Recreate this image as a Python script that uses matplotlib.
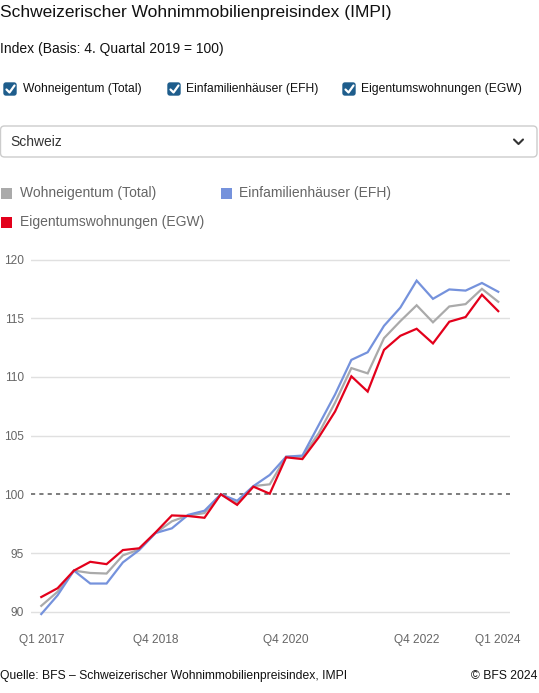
import matplotlib
matplotlib.use("Agg")
import matplotlib.pyplot as plt
from matplotlib.transforms import Affine2D
from matplotlib.patches import FancyBboxPatch, Rectangle
from matplotlib.lines import Line2D

plt.rcParams['font.family'] = ['Liberation Sans', 'DejaVu Sans']

quarters = [f"Q{q} {y}" for y in range(2017, 2025) for q in range(1, 5)][:29]
tick_labels = ["Q1 2017", "Q4 2018", "Q4 2020", "Q4 2022", "Q1 2024"]

total = [90.5, 91.7, 93.5, 93.3, 93.25, 94.8, 95.3, 96.7, 97.7, 98.2, 98.4, 100.0,
         99.25, 100.7, 100.85, 103.2, 103.2, 105.2, 107.8, 110.75, 110.3, 113.3,
         114.75, 116.1, 114.65, 116.0, 116.2, 117.5, 116.4]
efh = [89.8, 91.4, 93.5, 92.4, 92.4, 94.2, 95.25, 96.7, 97.1, 98.25, 98.6, 100.0,
       99.45, 100.7, 101.65, 103.2, 103.3, 105.9, 108.5, 111.45, 112.1, 114.35,
       115.9, 118.2, 116.65, 117.45, 117.35, 118.0, 117.25]
egw = [91.25, 92.0, 93.5, 94.25, 94.05, 95.25, 95.4, 96.75, 98.2, 98.15, 98.0, 100.0,
       99.1, 100.65, 100.05, 103.15, 103.0, 104.85, 107.05, 110.05, 108.75, 112.3,
       113.5, 114.1, 112.85, 114.7, 115.1, 117.0, 115.6]

series_names = ["Wohneigentum (Total)", "Einfamilienhäuser (EFH)", "Eigentumswohnungen (EGW)"]
colors = ["#aaaaaa", "#7592dc", "#e3001b"]

W, H = 539, 693
fig = plt.figure(figsize=(W / 100, H / 100), dpi=100)
px = Affine2D().scale(1 / W, -1 / H).translate(0, 1) + fig.transFigure

# Axes placement
ylo, yhi = 89.5, 120.5
ppu = (611.7 - 259.5) / 30.0
top_px = 259.5 - (yhi - 120) * ppu
bot_px = 611.7 + (90 - ylo) * ppu
ax = fig.add_axes([31 / W, 1 - bot_px / H, (510 - 31) / W, (bot_px - top_px) / H])
ax.set_xlim(-0.63, 28.72)
ax.set_ylim(ylo, yhi)

x = list(range(len(quarters)))
for vals, c in zip([total, efh, egw], colors):
    ax.plot(x, vals, color=c, lw=1.6, solid_joinstyle='miter', zorder=3)

for gy in [90, 95, 105, 110, 115, 120]:
    ax.axhline(gy, color="#e0e0e0", lw=1.0, zorder=1)
ax.axhline(100, color="#666666", lw=1.2, ls=(0, (2.5, 2.5)), zorder=2)

ax.set_yticks([90, 95, 100, 105, 110, 115, 120])
ax.set_yticklabels(["90", "95", "100", "105", "110", "115", "120"])
ax.set_xticks([quarters.index(t) for t in tick_labels])
ax.set_xticklabels(tick_labels)
ax.tick_params(axis='both', length=0, labelsize=8.6, labelcolor="#666666")
ax.tick_params(axis='y', pad=5)
ax.tick_params(axis='x', pad=12)
for s in ax.spines.values():
    s.set_visible(False)

# Header
fig.text(0, 13, "Schweizerischer Wohnimmobilienpreisindex (IMPI)", transform=px,
         fontsize=12.5, va='center', ha='left', color="#111111")
fig.text(0, 49, "Index (Basis: 4. Quartal 2019 = 100)", transform=px,
         fontsize=10, va='center', ha='left', color="#111111")

# Checkboxes
for (bx, tx), name in zip([(3, 23), (167, 186), (342, 361)], series_names):
    fig.add_artist(FancyBboxPatch((bx + 1, 83), 12, 12, boxstyle="round,pad=0,rounding_size=2",
                                  transform=px, facecolor="#1e5d8c", edgecolor="#1e5d8c"))
    fig.add_artist(Line2D([bx + 3.5, bx + 6.5, bx + 11.5], [89.5, 92.5, 85.5], transform=px,
                          color="white", lw=1.6, solid_capstyle='round', solid_joinstyle='round'))
    fig.text(tx, 89, name, transform=px, fontsize=8.7, va='center', ha='left', color="#111111")

# Dropdown
fig.add_artist(FancyBboxPatch((0.5, 126), 536.5, 31, boxstyle="round,pad=0,rounding_size=4",
                              transform=px, facecolor="white", edgecolor="#cccccc", lw=1.0))
fig.text(10, 142, "Schweiz", transform=px, fontsize=10, va='center', ha='left', color="#333333")
fig.add_artist(Line2D([514, 518.5, 523], [139.5, 144, 139.5], transform=px,
                      color="#333333", lw=1.5, solid_capstyle='round', solid_joinstyle='round'))

# Legend
leg = [(1, 193, 20), (221, 193, 239), (1, 222, 20)]
for (sx, sy, tx), name, c in zip(leg, series_names, colors):
    fig.add_artist(Rectangle((sx, sy - 5.5), 11, 11, transform=px, facecolor=c, edgecolor='none'))
    fig.text(tx, sy, name, transform=px, fontsize=10, va='center', ha='left', color="#666666")

# Footer
fig.text(0, 676, "Quelle: BFS – Schweizerischer Wohnimmobilienpreisindex, IMPI", transform=px,
         fontsize=8.7, va='center', ha='left', color="#111111")
fig.text(537, 676, "© BFS 2024", transform=px, fontsize=8.7, va='center', ha='right', color="#111111")

fig.savefig("out.png", dpi=100)
